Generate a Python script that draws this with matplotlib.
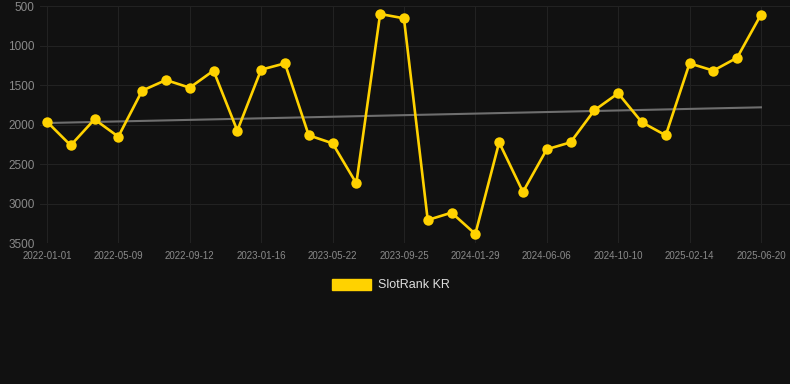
import matplotlib.pyplot as plt
import numpy as np
from matplotlib.patches import Patch

plt.rcParams['font.family'] = ['Liberation Sans', 'DejaVu Sans']

# every 3rd date is labelled on the axis
dates = ['2022-01-01', '2022-02-12', '2022-03-26', '2022-05-09', '2022-06-20', '2022-08-01',
         '2022-09-12', '2022-10-24', '2022-12-05', '2023-01-16', '2023-02-27', '2023-04-10',
         '2023-05-22', '2023-07-03', '2023-08-14', '2023-09-25', '2023-11-06', '2023-12-18',
         '2024-01-29', '2024-03-12', '2024-04-24', '2024-06-06', '2024-07-18', '2024-08-29',
         '2024-10-10', '2024-11-21', '2025-01-03', '2025-02-14', '2025-03-28', '2025-05-09',
         '2025-06-20']
rank = [1964, 2264, 1935, 2154, 1572, 1437, 1534, 1318, 2078, 1306,
        1226, 2137, 2238, 2745, 601, 656, 3209, 3116, 3386, 2226,
        2854, 2314, 2226, 1820, 1605, 1973, 2137, 1226, 1318, 1154,
        610]
series_name = 'SlotRank KR'

bg = '#111111'
gold = '#FFD200'
x = np.arange(len(rank))

fig = plt.figure(figsize=(7.9, 3.84), dpi=100, facecolor=bg)
ax = fig.add_axes([40 / 790, 1 - 243 / 384, 750 / 790, 237 / 384], facecolor=bg)

# trend line
k, b = np.polyfit(x, rank, 1)
ax.plot(x, k * x + b, color='#6e6e6e', linewidth=1.5, zorder=2)

ax.plot(x, rank, color=gold, linewidth=1.9, marker='o', markersize=7.5,
        markeredgewidth=0, zorder=3, clip_on=False)

ax.set_ylim(3500, 500)
ax.set_yticks([500, 1000, 1500, 2000, 2500, 3000, 3500])
ax.set_xlim(-0.29, 31.22)
ax.set_xticks(x[::3])
ax.set_xticklabels(dates[::3])

ax.grid(True, color='#222222', linewidth=0.8)
ax.set_axisbelow(True)
for s in ax.spines.values():
    s.set_visible(False)
ax.tick_params(axis='y', length=0, pad=4, labelsize=8.5, labelcolor='#8a8a8a')
ax.tick_params(axis='x', length=0, pad=6, labelsize=7, labelcolor='#8a8a8a')

fig.legend(handles=[Patch(facecolor=gold, edgecolor=gold)], labels=[series_name],
           loc='center', bbox_to_anchor=(391 / 790, 1 - 285 / 384), frameon=False,
           handlelength=3.1, handleheight=1.0, fontsize=9, labelcolor='#dddddd',
           handletextpad=0.6)

fig.savefig('out.png', dpi=100, facecolor=bg)
